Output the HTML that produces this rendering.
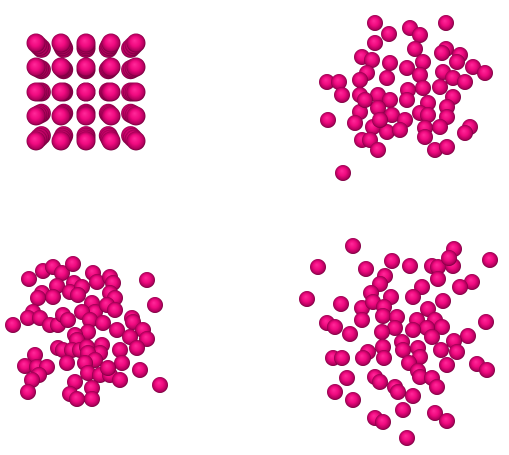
<!DOCTYPE html>
<html><head><meta charset="utf-8"><style>
html,body{margin:0;padding:0;background:#fff;}
svg{display:block}
</style></head><body>
<svg id="chart" width="509" height="455" viewBox="0 0 509 455" xmlns="http://www.w3.org/2000/svg">
<defs>
<radialGradient id="sph" cx="50%" cy="50%" r="55%" fx="42%" fy="36%">
<stop offset="0" stop-color="#ff2a9a"/>
<stop offset="0.45" stop-color="#f00a80"/>
<stop offset="0.8" stop-color="#b0005c"/>
<stop offset="1" stop-color="#4a0028"/>
</radialGradient>
</defs>
<g id="g-grid"></g>
<g id="g-tr"></g>
<g id="g-bl"></g>
<g id="g-br"></g>
</svg>
<script>
const gridCols = [36, 61, 86, 111, 136];
const gridRows = [43, 67, 92, 116, 141];
const trX = [375,446,389,410,420,375,415,446,460,442,362,372,390,407,423,457,473,485,367,387,420,443,453,465,327,339,342,360,360,378,390,408,407,423,440,453,447,428,360,378,392,405,420,428,447,328,355,373,387,400,425,440,470,465,362,370,378,425,435,447,343,365,380];
const trY = [23,23,34,28,35,43,49,49,55,53,57,60,63,68,62,62,67,73,73,78,75,72,78,82,82,82,95,80,95,95,100,90,100,88,87,97,107,103,112,108,115,120,113,115,117,120,123,127,132,130,128,127,127,133,140,140,150,137,150,147,173,100,120];
const blX = [29,43,53,62,73,57,74,70,82,78,93,97,110,113,110,115,147,42,53,38,92,95,82,107,115,155,33,28,40,50,58,63,68,90,103,13,88,117,132,133,143,147,130,137,75,77,58,63,72,80,87,102,100,88,95,120,122,67,85,35,25,37,47,39,32,88,100,110,108,120,140,160,28,75,92,70,77,92];
const blY = [279,271,267,273,264,286,283,292,287,295,273,282,277,283,293,298,280,293,297,298,303,312,312,305,310,305,312,318,318,325,325,315,320,320,323,325,332,330,318,322,330,339,337,348,335,340,348,350,350,350,347,345,353,353,360,350,363,363,363,355,366,367,367,375,380,373,375,375,368,380,370,385,392,382,388,394,399,399];
const brX = [353,454,318,392,410,432,438,453,449,490,366,385,438,472,460,380,422,307,341,371,391,413,443,362,373,384,428,362,383,397,417,435,442,427,413,395,382,327,335,350,486,468,432,402,403,383,418,420,441,454,457,368,363,384,333,342,409,447,477,487,418,420,432,437,347,375,380,395,398,335,413,353,403,375,383,435,447,407];
const brY = [246,249,267,261,266,266,267,266,258,260,269,276,279,282,287,284,287,299,304,293,297,297,301,308,302,307,309,320,316,317,320,320,327,328,330,328,332,323,327,334,322,336,337,342,350,347,348,357,350,341,352,352,358,358,358,358,363,365,364,370,371,377,378,387,378,377,382,387,392,392,396,400,410,418,422,413,421,438];

const NS = 'http://www.w3.org/2000/svg';
function sphere(g, cx, cy, r, name) {
  const c = document.createElementNS(NS, 'circle');
  c.setAttribute('cx', cx);
  c.setAttribute('cy', cy);
  c.setAttribute('r', r);
  c.setAttribute('fill', 'url(#sph)');
  
  
  g.appendChild(c);
}
const gg = document.getElementById('g-grid');
gridRows.forEach((y, ri) => {
  gridCols.forEach((x, ci) => {
    const dx = (ci - 2) * 0.9, dy = (ri - 2) * 0.9;
    for (let k = 3; k >= 0; k--) {
      sphere(gg, x - dx * k, y - dy * k, 9.5, 'grid-sphere');
    }
  });
});
function cloud(id, xs, ys) {
  const g = document.getElementById(id);
  for (let i = 0; i < xs.length; i++) sphere(g, xs[i], ys[i], 8, 'cloud-sphere');
}
cloud('g-tr', trX, trY);
cloud('g-bl', blX, blY);
cloud('g-br', brX, brY);
</script>
</body></html>
